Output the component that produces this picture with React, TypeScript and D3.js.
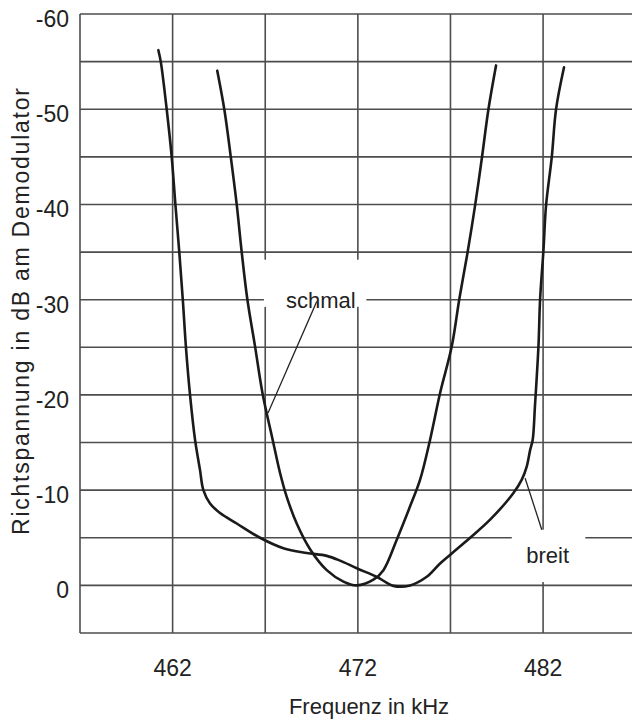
import React from 'react';
import * as d3 from 'd3';

// Frequency (kHz) and detector voltage (dB)
const broadFreq = [461.23, 461.36, 461.68, 461.95, 462.15, 462.36, 462.55, 462.72, 462.94, 463.21, 463.48, 463.66, 464.02, 464.56, 465.46, 466.72, 467.98, 469.24, 470.32, 471.04, 471.94, 473.02, 473.92, 474.82, 475.72, 476.44, 477.16, 478.06, 479.14, 480.4, 480.85, 481.12, 481.3, 481.44, 481.56, 481.75, 481.84, 482.02, 482.16, 482.47, 482.7, 483.13];
const broadDb = [-56.2, -55, -50, -45, -40, -35, -30, -25, -20, -15.3, -12.1, -10, -8.6, -7.6, -6.5, -5, -3.9, -3.4, -3.1, -2.6, -1.8, -0.9, 0.05, 0, -0.9, -2.3, -3.5, -5, -6.9, -9.7, -11.1, -12.5, -14.2, -15.3, -18.8, -25.1, -30.1, -35.2, -39.9, -45, -50, -54.4];

const narrowFreq = [464.41, 464.79, 465.14, 465.46, 465.73, 466.03, 466.45, 466.86, 467.4, 467.8, 468.16, 468.7, 469.42, 470.32, 471.22, 471.94, 472.84, 473.38, 474.1, 474.82, 475.36, 475.9, 476.44, 477.07, 477.48, 477.9, 478.33, 478.69, 479.05, 479.46];
const narrowDb = [-54.05, -50, -45, -40, -35, -30.1, -25.1, -20.1, -15.3, -11.8, -9.3, -6.5, -3.8, -1.6, -0.4, 0, -0.6, -1.6, -4.8, -8.3, -11.1, -15.3, -20.2, -25.1, -30.1, -34.7, -39.9, -44.8, -50, -54.6];

const xTickLabels = [462, 472, 482];
const xGridValues = [457, 462, 467, 472, 477, 482];
const yTickLabels = [-60, -50, -40, -30, -20, -10, 0];
const yGridValues = [-60, -55, -50, -45, -40, -35, -30, -25, -20, -15, -10, -5, 0, 5];

const xTitle = 'Frequenz in kHz';
const yTitle = 'Richtspannung in dB am Demodulator';
const labelNarrow = 'schmal';
const labelBroad = 'breit';

const W = 632;
const H = 724;
const FONT = '"Liberation Sans", Arial, Helvetica, sans-serif';

export default function App() {
  const x = d3.scaleLinear().domain([457, 486.8]).range([80, 632]);
  const y = d3.scaleLinear().domain([-60, 5]).range([14, 633]);

  const line = d3
    .line<[number, number]>()
    .x((d) => x(d[0]))
    .y((d) => y(d[1]))
    .curve(d3.curveCatmullRom.alpha(0.5));

  const broad = broadFreq.map((f, i) => [f, broadDb[i]] as [number, number]);
  const narrow = narrowFreq.map((f, i) => [f, narrowDb[i]] as [number, number]);

  const gridColor = '#4d4d4d';
  const [x0, x1] = x.range();
  const [y0, y1] = y.range();

  // annotation boxes (data units)
  const boxNarrow = { f0: 466.93, f1: 472.46, d0: -34.2, d1: -29.25 };
  const boxBroad = { f0: 480.31, f1: 484.28, d0: -5.85, d1: -0.35 };

  return (
    <svg
      width={W}
      height={H}
      style={{ position: 'absolute', left: 0, top: 0, display: 'block', background: '#fff' }}
    >
      <rect x={0} y={0} width={W} height={H} fill="#fff" />
      {/* grid */}
      <g stroke={gridColor} strokeWidth={1.6} shapeRendering="auto">
        {yGridValues.map((v) => (
          <line key={'h' + v} x1={x0} x2={x1} y1={y(v)} y2={y(v)} />
        ))}
        {xGridValues.map((v) => (
          <line key={'v' + v} x1={x(v)} x2={x(v)} y1={y0} y2={y1} />
        ))}
      </g>
      {/* label gaps */}
      <rect
        x={x(boxNarrow.f0)}
        y={y(boxNarrow.d0)}
        width={x(boxNarrow.f1) - x(boxNarrow.f0)}
        height={y(boxNarrow.d1) - y(boxNarrow.d0)}
        fill="#fff"
      />
      <rect
        x={x(boxBroad.f0)}
        y={y(boxBroad.d0)}
        width={x(boxBroad.f1) - x(boxBroad.f0)}
        height={y(boxBroad.d1) - y(boxBroad.d0)}
        fill="#fff"
      />
      {/* curves */}
      <path d={line(broad) || ''} fill="none" stroke="#1a1a1a" strokeWidth={2.6} strokeLinecap="round" />
      <path d={line(narrow) || ''} fill="none" stroke="#1a1a1a" strokeWidth={2.6} strokeLinecap="round" />
      {/* leaders */}
      <line x1={x(469.78)} y1={y(-29.8)} x2={x(467.15)} y2={y(-18.1)} stroke="#222" strokeWidth={1.3} />
      <line x1={x(481.03)} y1={y(-11.25)} x2={x(481.93)} y2={y(-5.85)} stroke="#222" strokeWidth={1.3} />
      {/* labels */}
      <g fontFamily={FONT} fill="#222">
        <text x={x(470.0)} y={y(-29.1)} fontSize={22} textAnchor="middle">
          {labelNarrow}
        </text>
        <text x={x(482.25)} y={y(-2.3)} fontSize={22} textAnchor="middle">
          {labelBroad}
        </text>
        {yTickLabels.map((v) => (
          <text key={'yl' + v} x={69} y={y(v) + 13} fontSize={23} textAnchor="end">
            {v}
          </text>
        ))}
        {xTickLabels.map((v) => (
          <text key={'xl' + v} x={x(v)} y={675.5} fontSize={23} textAnchor="middle">
            {v}
          </text>
        ))}
        <text x={369} y={714} fontSize={22} textAnchor="middle">
          {xTitle}
        </text>
        <text
          transform={`translate(28.5, 311.5) rotate(-90)`}
          fontSize={23}
          textAnchor="middle"
          textLength={447}
          lengthAdjust="spacing"
        >
          {yTitle}
        </text>
      </g>
    </svg>
  );
}
